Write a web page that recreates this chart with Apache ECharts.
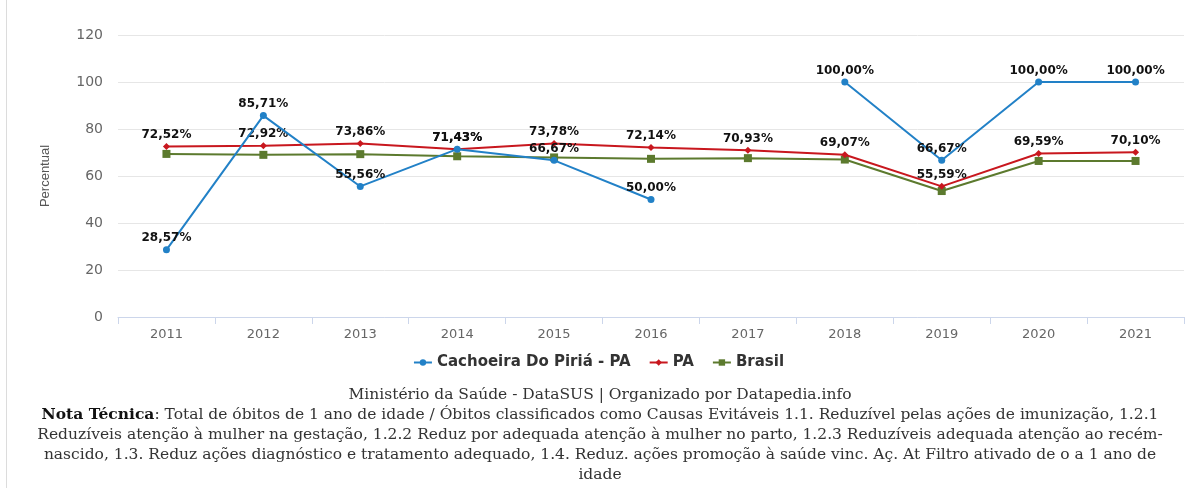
<!DOCTYPE html>
<html>
<head>
<meta charset="utf-8">
<script src="https://cdn.jsdelivr.net/npm/echarts@6/dist/echarts.min.js"></script>
<style>
html,body{margin:0;padding:0;background:#fff;}
#chart{width:1197px;height:488px;}
</style>
</head>
<body>
<div id="chart"></div>
<script>
var categories = ['2011','2012','2013','2014','2015','2016','2017','2018','2019','2020','2021'];
var cachoeira = [28.57, 85.71, 55.56, 71.43, 66.67, 50.00, null, 100.00, 66.67, 100.00, 100.00];
var pa = [72.52, 72.92, 73.86, 71.43, 73.78, 72.14, 70.93, 69.07, 55.59, 69.59, 70.10];
var brasil = [69.4, 69.0, 69.3, 68.4, 67.9, 67.3, 67.6, 67.0, 53.6, 66.4, 66.4];
var seriesNames = ['Cachoeira Do Piriá - PA', 'PA', 'Brasil'];
var yTicks = [0, 20, 40, 60, 80, 100, 120];
var sourceLine = 'Ministério da Saúde - DataSUS | Organizado por Datapedia.info';
var notaLines = [
  ['Nota Técnica', ': Total de óbitos de 1 ano de idade / Óbitos classificados como Causas Evitáveis 1.1. Reduzível pelas ações de imunização, 1.2.1'],
  ['', 'Reduzíveis atenção à mulher na gestação, 1.2.2 Reduz por adequada atenção à mulher no parto, 1.2.3 Reduzíveis adequada atenção ao recém-'],
  ['', 'nascido, 1.3. Reduz ações diagnóstico e tratamento adequado, 1.4. Reduz. ações promoção à saúde vinc. Aç. At Filtro ativado de o a 1 ano de'],
  ['', 'idade']
];

var chart = echarts.init(document.getElementById('chart'));
var sans = 'DejaVu Sans';
var serif = 'DejaVu Serif';
function fmt(v){ return v.value == null ? '' : Number(v.value).toFixed(2).replace('.', ',') + '%'; }
var labelStyle = {show:true, position:'top', distance:2, formatter:fmt, color:'#111', fontFamily:sans, fontWeight:'bold', fontSize:12};

var graphics = [
  {type:'line', shape:{x1:6.5,y1:0,x2:6.5,y2:488}, style:{stroke:'#dcdcdc', lineWidth:1}},
  {type:'text', x:600, y:395, style:{text:sourceLine, font:'15.5px "' + serif + '"', fill:'#333', align:'center', verticalAlign:'middle'}}
];
var ys = [415, 435, 455, 475];
notaLines.forEach(function(l, i){
  var rich = {b:{fontFamily:serif, fontSize:15.5, fontWeight:'bold', fill:'#111'}, n:{fontFamily:serif, fontSize:15.5, fill:'#333'}};
  var t = (l[0] ? '{b|' + l[0] + '}' : '') + '{n|' + l[1] + '}';
  graphics.push({type:'text', x:600, y:ys[i], style:{text:t, rich:rich, align:'center', verticalAlign:'middle', font:'15.5px "' + serif + '"'}});
});

chart.setOption({
  animation:false,
  backgroundColor:'#fff',
  grid:{left:118, right:13, top:35, bottom:171, containLabel:false},
  legend:{
    data:seriesNames, top:350, left:'center', itemGap:18, itemWidth:18, itemHeight:8,
    textStyle:{fontFamily:sans, fontWeight:'bold', fontSize:15, color:'#333'}
  },
  xAxis:{
    type:'category', data:categories, boundaryGap:true,
    axisLine:{lineStyle:{color:'#ccd6eb'}},
    axisTick:{show:true, length:7, lineStyle:{color:'#ccd6eb'}},
    axisLabel:{color:'#666', fontFamily:sans, fontSize:13, margin:11}
  },
  yAxis:{
    type:'value', min:yTicks[0], max:yTicks[yTicks.length-1], interval:20,
    name:'Percentual', nameLocation:'middle', nameGap:66,
    nameTextStyle:{color:'#555', fontFamily:'Liberation Sans', fontSize:13},
    axisLine:{show:false}, axisTick:{show:false},
    axisLabel:{color:'#666', fontFamily:sans, fontSize:14, margin:15},
    splitLine:{lineStyle:{color:'#e6e6e6'}}
  },
  series:[
    {name:seriesNames[0], type:'line', data:cachoeira, connectNulls:false, color:'#2281c7',
     symbol:'circle', symbolSize:7, lineStyle:{width:2}, label:labelStyle, z:3},
    {name:seriesNames[1], type:'line', data:pa, color:'#c8171e',
     symbol:'diamond', symbolSize:7, lineStyle:{width:2}, label:labelStyle, z:2},
    {name:seriesNames[2], type:'line', data:brasil, color:'#5c7a2e',
     symbol:'rect', symbolSize:8, lineStyle:{width:2}, label:{show:false}, z:1}
  ],
  graphic:graphics
});
</script>
</body>
</html>
